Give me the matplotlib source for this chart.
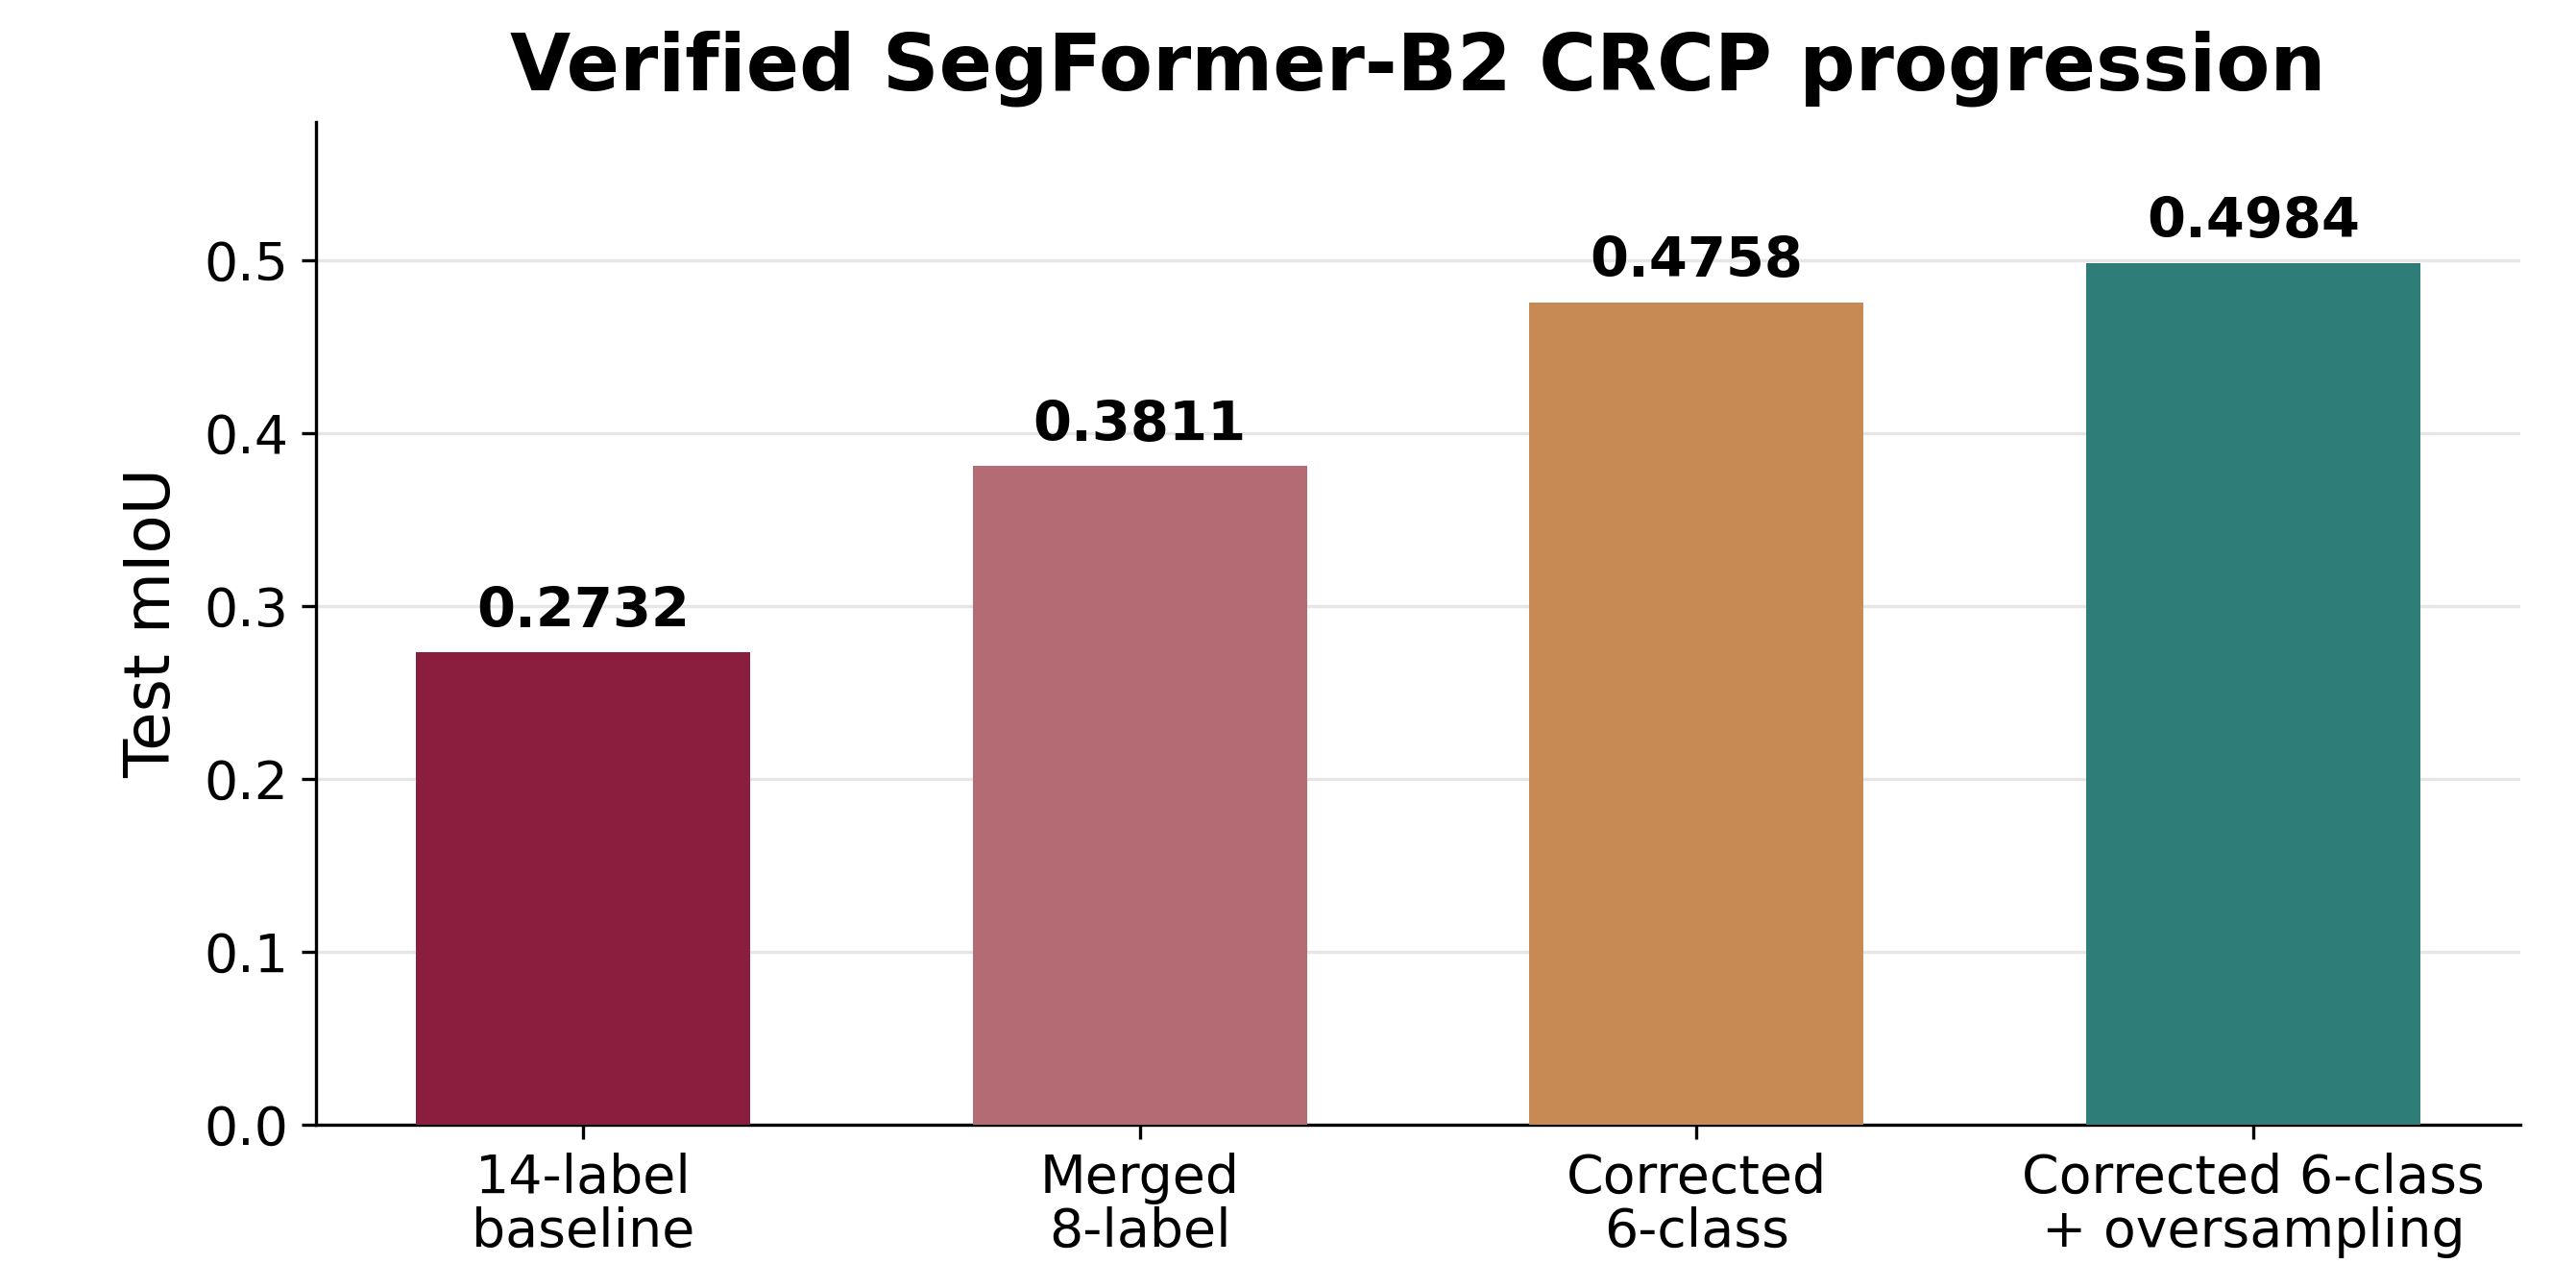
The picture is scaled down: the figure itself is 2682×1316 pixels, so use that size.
import matplotlib
matplotlib.use("Agg")
import matplotlib.pyplot as plt

# data
categories = ["14-label\nbaseline", "Merged\n8-label", "Corrected\n6-class", "Corrected 6-class\n+ oversampling"]
miou = [0.2732, 0.3811, 0.4758, 0.4984]
bar_colors = ["#8B1D3F", "#B56B73", "#C88A55", "#2E7D78"]

fig = plt.figure(figsize=(2682 / 300, 1316 / 300), dpi=300)
ax = fig.add_axes([0.1227, 0.1102, 0.8557, 0.7933])

x = range(len(categories))
ax.bar(x, miou, width=0.6, color=bar_colors, zorder=3)
for i, v in enumerate(miou):
    ax.text(i, v + 0.008, f"{v:.4f}", ha="center", va="bottom",
            fontsize=13.8, fontweight="bold", zorder=4)

ax.set_xticks(list(x))
ax.set_xticklabels(categories, fontsize=13.3, linespacing=1.05)
ax.tick_params(axis="y", labelsize=13.3)
ax.set_ylim(0, 0.58)
ax.set_ylabel("Test mIoU", fontsize=15.8, labelpad=5)
ax.set_title("Verified SegFormer-B2 CRCP progression", fontsize=19.6,
             fontweight="bold", pad=8)

ax.yaxis.grid(True, color="#e6e6e6", linewidth=0.8, zorder=0)
ax.set_axisbelow(True)
ax.spines["top"].set_visible(False)
ax.spines["right"].set_visible(False)

fig.savefig("out.png", dpi=300)
